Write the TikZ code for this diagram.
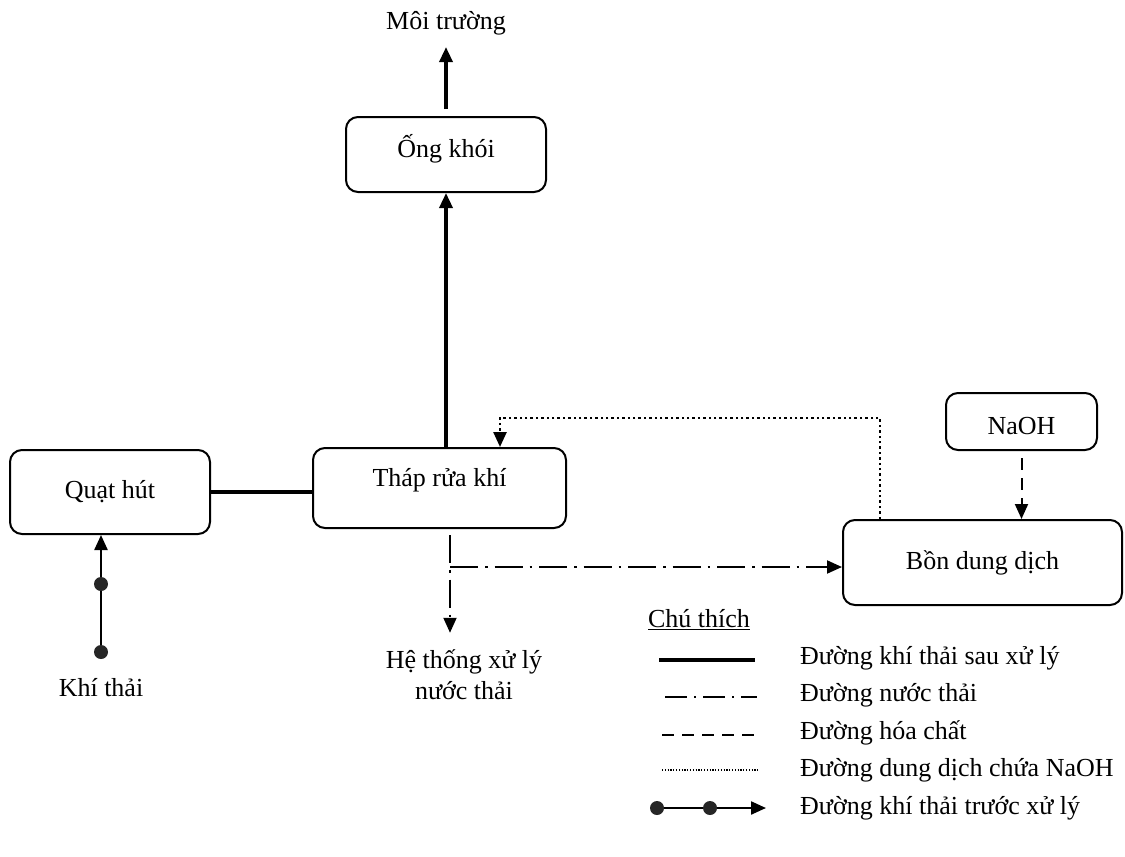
\documentclass[tikz,border=0pt]{standalone}
\usepackage{fontspec}
\setmainfont{Liberation Serif}
\usetikzlibrary{arrows.meta}
\begin{document}
\begin{tikzpicture}[x=1pt,y=-1pt,
  font=\fontsize{26}{31}\selectfont,
  box/.style={draw, line width=2pt, rounded corners=12pt, align=center},
  lbl/.style={align=center, inner sep=0pt},
  tip/.style={-{Triangle[length=15pt,width=13pt]}},
  treated/.style={line width=3.4pt},
  water/.style={line width=2pt, dash pattern=on 28pt off 7pt on 2.5pt off 7pt},
  chem/.style={line width=2pt, dash pattern=on 12pt off 8pt},
  sol/.style={line width=2.5pt, dash pattern=on 2.4pt off 3pt},
  solfine/.style={line width=1.5pt, dash pattern=on 1.2pt off 1.6pt},
  raw/.style={line width=2.3pt},
  dot/.style={circle, fill=black!85, minimum size=14pt, inner sep=0pt}]
\useasboundingbox (0,0) rectangle (1125,857);

% process units
\node[lbl] (env) at (446,23) {Môi trường};
\node[box, minimum width=200pt, minimum height=75pt, text depth=17pt] (stack) at (446,154.5) {Ống khói};
\node[box, minimum width=253pt, minimum height=80pt, text depth=22pt] (tower) at (439.5,488) {Tháp rửa khí};
\node[box, minimum width=200pt, minimum height=84pt] (fan) at (110,492) {Quạt hút};
\node[box, minimum width=151pt, minimum height=57pt, text height=26pt] (naoh) at (1021.5,421.5) {NaOH};
\node[box, minimum width=279pt, minimum height=85pt] (tank) at (982.5,562.5) {Bồn dung dịch};
\node[lbl] (gas) at (101,688) {Khí thải};
\node[lbl] (ww) at (464,675) {Hệ thống xử lý\\nước thải};

% raw exhaust into the fan
\node[dot] (d1) at (101,652) {};
\node[dot] (d2) at (101,584) {};
\draw[raw] (d1) -- (d2);
\draw[raw, tip] (d2) -- (d2 |- fan.south);

% treated gas path
\draw[treated] (fan.east) -- (fan.east -| tower.west);
\draw[treated, tip] (stack.south |- tower.north) -- (stack.south);
\draw[treated, tip, shorten <=7pt, shorten >=12pt] (stack.north) -- (env.south);

% waste water
\coordinate (wj) at (450,567);
\draw[water, tip, shorten <=6pt, shorten >=17pt] (tower.south -| wj) -- (ww.north -| wj);
\draw[water, tip] (wj) -- (wj -| tank.west);

% chemical dosing
\draw[chem, tip, shorten <=7pt] (naoh.south) -- (naoh.south |- tank.north);

% NaOH solution returned to the scrubber
\coordinate (rr) at (880,418);
\coordinate (rl) at (500,418);
\draw[sol, tip] (tank.north -| rr) -- (rr) -- (rl) -- (rl |- tower.north);

% legend
\node[lbl] (legt) at (699,620) {\underline{Chú thích}};
\node[lbl, anchor=west] (l1) at (800,658) {Đường khí thải sau xử lý};
\node[lbl, anchor=west] (l2) at (800,695) {Đường nước thải};
\node[lbl, anchor=west] (l3) at (800,733) {Đường hóa chất};
\node[lbl, anchor=west] (l4) at (800,770) {Đường dung dịch chứa NaOH};
\node[lbl, anchor=west] (l5) at (800,808) {Đường khí thải trước xử lý};

\coordinate (s1a) at (659,660); \coordinate (s1b) at (755,660);
\coordinate (s2a) at (665,697); \coordinate (s2b) at (757,697);
\coordinate (s3a) at (662,735); \coordinate (s3b) at (757,735);
\coordinate (s4a) at (662,770); \coordinate (s4b) at (759,770);
\coordinate (s5b) at (766,808);
\draw[treated, line width=4pt] (s1a) -- (s1b);
\draw[line width=2pt, dash pattern=on 22pt off 7pt on 2pt off 7pt] (s2a) -- (s2b);
\draw[chem] (s3a) -- (s3b);
\draw[solfine] (s4a) -- (s4b);
\node[dot] (e1) at (657,808) {};
\node[dot] (e2) at (710,808) {};
\draw[raw] (e1) -- (e2);
\draw[raw, tip] (e2) -- (s5b);
\end{tikzpicture}
\end{document}
